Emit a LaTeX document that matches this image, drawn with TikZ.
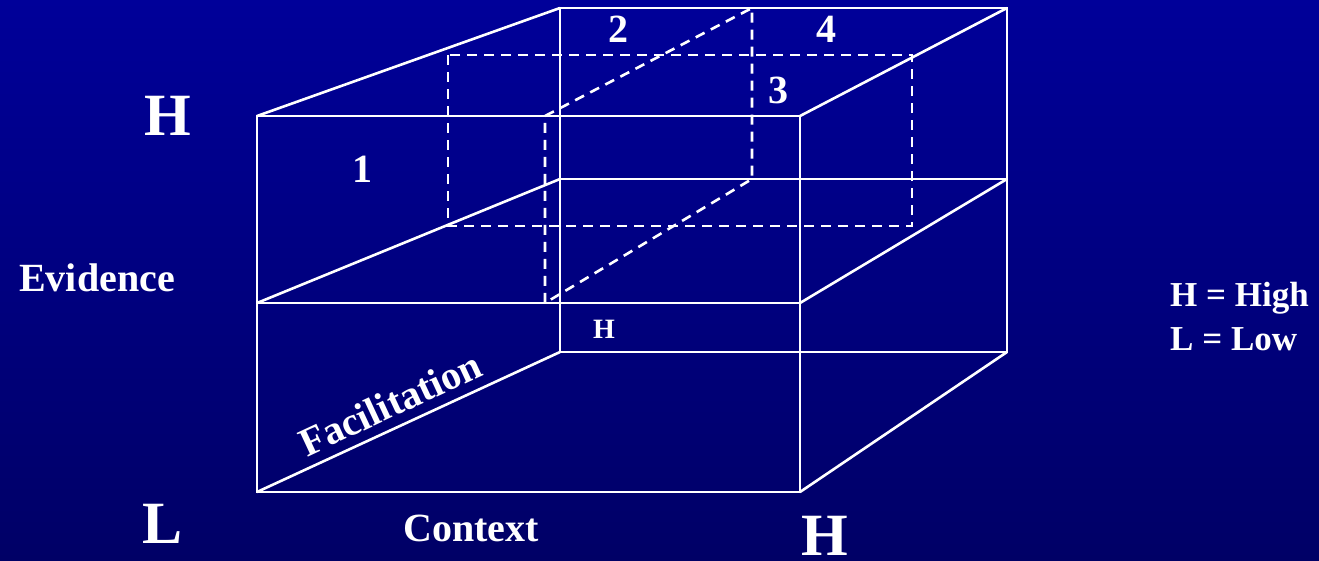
\documentclass[tikz,border=0pt]{standalone}
\usepackage{fontspec}
\setmainfont{Liberation Serif}
\definecolor{bgtop}{RGB}{0,0,153}
\definecolor{bgbot}{RGB}{0,0,102}
\begin{document}
\begin{tikzpicture}[x=1pt,y=-1pt,
  edge/.style={white, line width=2.6pt, line join=miter},
  hid/.style={white, line width=2.6pt, dash pattern=on 10pt off 7pt},
  lbl/.style={text=white, anchor=base, inner sep=0pt},
  big/.style={lbl, font=\fontsize{60}{66}\selectfont\bfseries},
  mid/.style={lbl, font=\fontsize{40}{44}\selectfont\bfseries},
  key/.style={lbl, anchor=base west, font=\fontsize{35}{40}\selectfont\bfseries},
  small/.style={lbl, font=\fontsize{28}{32}\selectfont\bfseries}]
\shade[top color=bgtop, bottom color=bgbot] (0,0) rectangle (1319,560);
\useasboundingbox (0,0) rectangle (1319,560);
% corners
\coordinate (FTL) at (257,116); \coordinate (FTR) at (800,116);
\coordinate (FML) at (257,303); \coordinate (FMR) at (800,303);
\coordinate (FBL) at (257,492); \coordinate (FBR) at (800,492);
\coordinate (BTL) at (560,8);   \coordinate (BTR) at (1007,8);
\coordinate (BML) at (560,179); \coordinate (BMR) at (1007,179);
\coordinate (BBL) at (560,352); \coordinate (BBR) at (1007,352);
\coordinate (DTL) at (448,55);  \coordinate (DTR) at (912,55);
\coordinate (DBL) at (448,226); \coordinate (DBR) at (912,226);
\coordinate (IFT) at (545,116); \coordinate (IFB) at (545,303);
\coordinate (IBT) at (752,8);   \coordinate (IBB) at (752,179);
% hidden (dashed) box
\draw[hid] (DTL) rectangle (DBR);
\draw[hid] (IFT) -- (IBT) -- (IBB) -- (IFB) -- cycle;
% solid box
\draw[edge] (FTL) rectangle (FBR);
\draw[edge] (FML) -- (FMR);
\draw[edge] (BTL) -- (BTR) -- (BBR) -- (BBL) -- cycle;
\draw[edge] (BML) -- (BMR);
\draw[edge] (FTL) -- (BTL);
\draw[edge] (FTR) -- (BTR);
\draw[edge] (FML) -- (BML);
\draw[edge] (FMR) -- (BMR);
\draw[edge] (FBL) -- (BBL);
\draw[edge] (FBR) -- (BBR);
% labels
\node[big] (hTop) at (168,135) {H};
\node[big] (lBot) at (163,543) {L};
\node[big] (hBot) at (825,555) {H};
\node[mid] (ev) at (97,291) {Evidence};
\node[mid] (ctx) at (471,541) {Context};
\node[mid, rotate=25] (fac) at (396,416) {Facilitation};
\node[mid] (n1) at (362,182) {1};
\node[mid] (n2) at (618,42) {2};
\node[mid] (n4) at (826,42) {4};
\node[mid] (n3) at (778,103) {3};
\node[small] (hs) at (604,338) {H};
\node[key] (kH) at (1170,306) {H = High};
\node[key] (kL) at (1170,350) {L = Low};
\end{tikzpicture}
\end{document}
